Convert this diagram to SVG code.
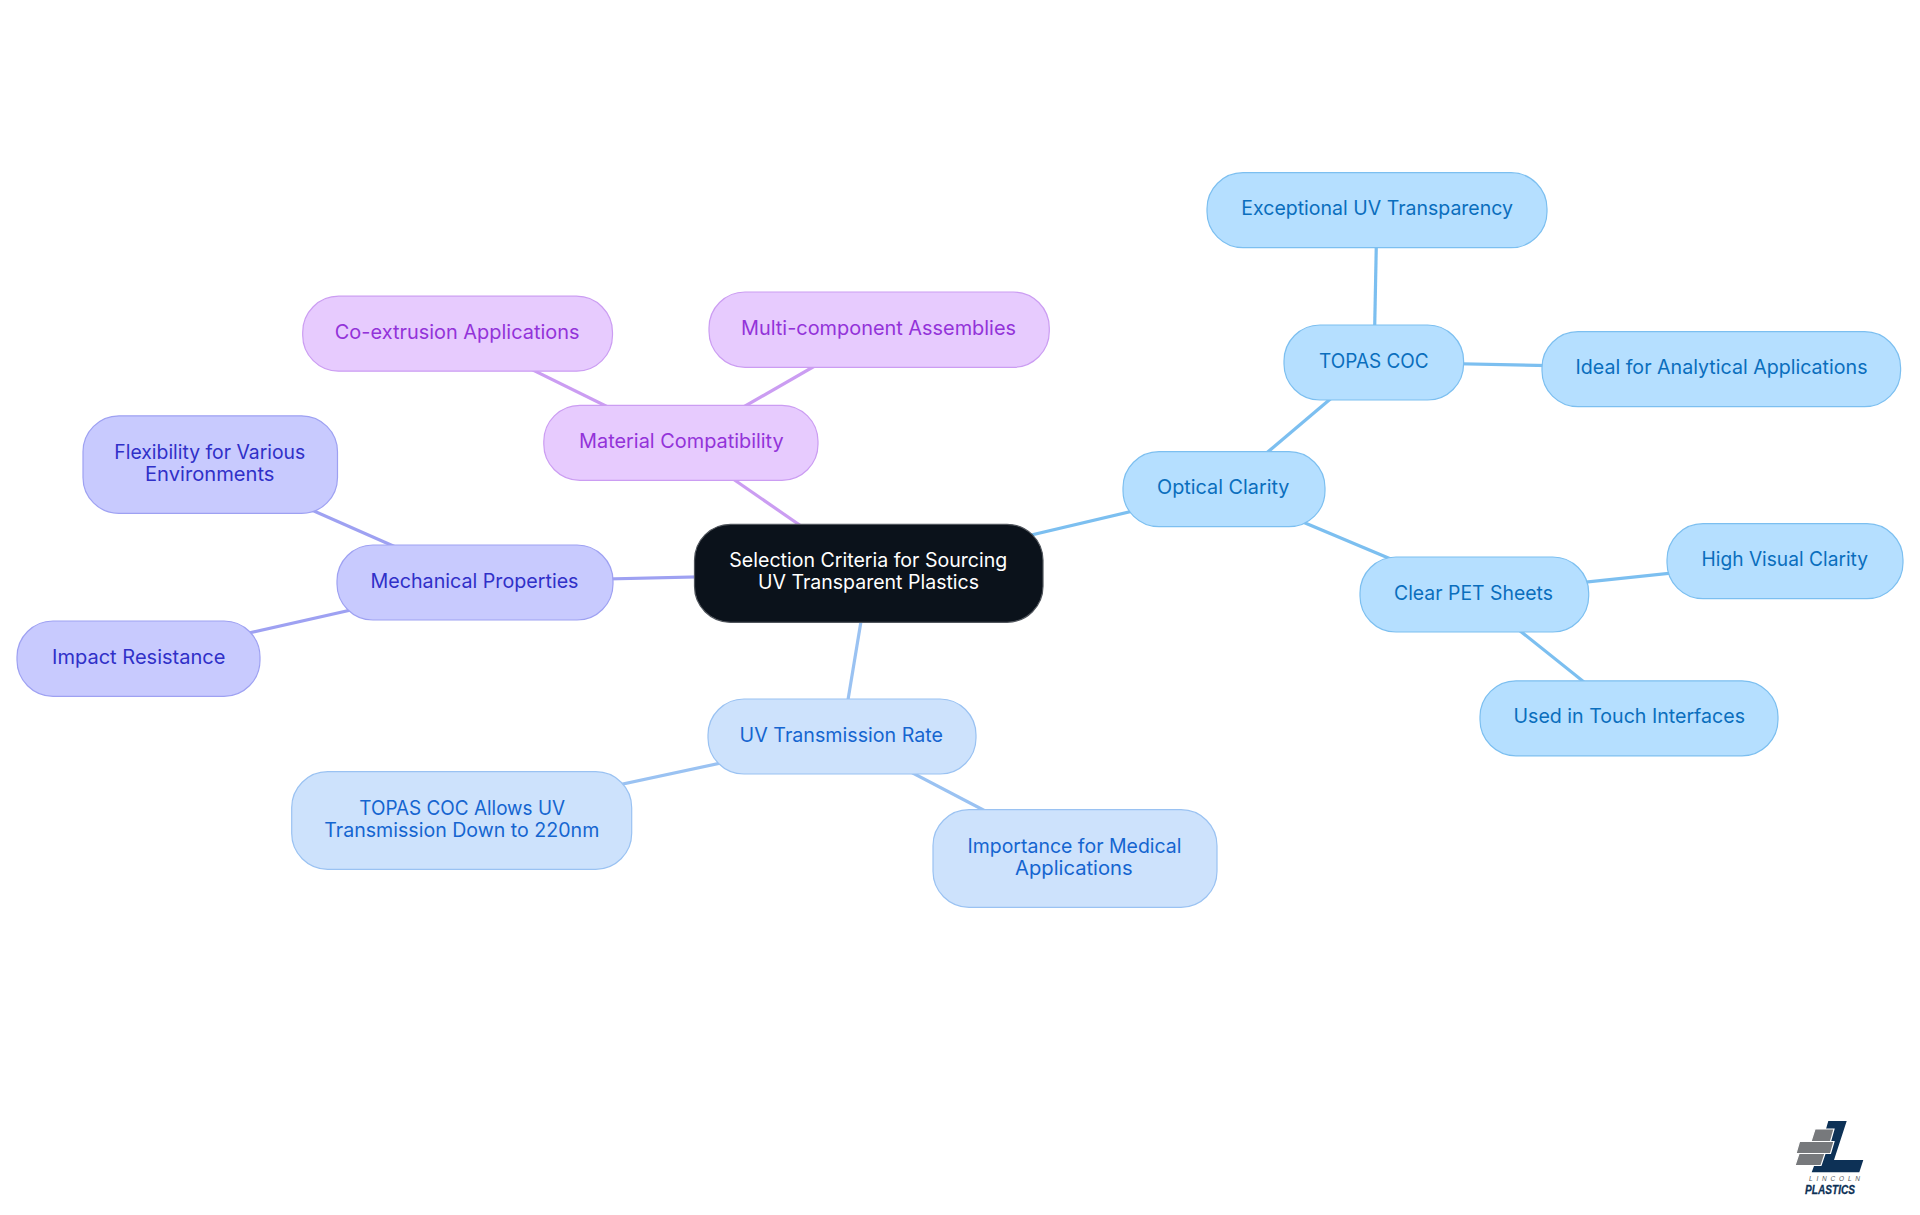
<svg xmlns="http://www.w3.org/2000/svg" width="1920" height="1215" viewBox="0 0 1920 1215">
<style>
text{font-family:"Inter","Noto Sans","Liberation Sans",sans-serif;font-size:19.6px;font-weight:400}
rect{stroke-width:1.2}
.a rect{fill:#b5dfff;stroke:#7cbff0}.a text{fill:#0a6ebd}
.u rect{fill:#cde2fc;stroke:#9ac2f2}.u text{fill:#1565d0}
.p rect{fill:#e7cbfe;stroke:#cb9df2}.p text{fill:#9333d9}
.i rect{fill:#c8cafe;stroke:#9ea1f2}.i text{fill:#3030c8}
#connectors line{stroke-width:3.2;fill:none}
.ca{stroke:#7cbff0}.cu{stroke:#9ac2f2}.cp{stroke:#cb9df2}.ci{stroke:#9ea1f2}
#logo text{font-family:"Liberation Sans",sans-serif;font-style:italic}
#logo .l1{font-size:6.5px;font-weight:400;fill:#55585c}
#logo .l2{font-size:13px;font-weight:700;fill:#0d3156;stroke:#0d3156;stroke-width:.3}
</style>
<g id="connectors">
<line class="ca" x1="869" y1="573.5" x2="1224" y2="489.5"/>
<line class="ca" x1="1224" y1="489" x2="1374" y2="362"/>
<line class="ca" x1="1374" y1="362" x2="1377" y2="210"/>
<line class="ca" x1="1374" y1="362" x2="1721" y2="369"/>
<line class="ca" x1="1222" y1="488" x2="1474" y2="594"/>
<line class="ca" x1="1474" y1="594" x2="1785" y2="561"/>
<line class="ca" x1="1474" y1="594" x2="1629" y2="718"/>
<line class="cu" x1="869" y1="573" x2="842" y2="736"/>
<line class="cu" x1="842" y1="737" x2="462" y2="818.6"/>
<line class="cu" x1="842" y1="736" x2="1075" y2="858"/>
<line class="cp" x1="869" y1="573" x2="681" y2="443"/>
<line class="cp" x1="681" y1="443" x2="458" y2="333"/>
<line class="cp" x1="681" y1="443" x2="879" y2="329"/>
<line class="ci" x1="869" y1="573" x2="475" y2="582"/>
<line class="ci" x1="475" y1="582" x2="205" y2="463"/>
<line class="ci" x1="475" y1="582" x2="138" y2="658"/>
</g>
<g id="root"><rect x="694.5" y="524.3" width="348.5" height="98" rx="36" fill="#0b121b" stroke="#50555c"/><text x="729.3" y="567.3" fill="#fff" textLength="278" lengthAdjust="spacingAndGlyphs">Selection Criteria for Sourcing</text><text x="758" y="589" fill="#fff" textLength="221" lengthAdjust="spacingAndGlyphs">UV Transparent Plastics</text></g>
<g id="optical" class="a"><rect x="1123" y="451.7" width="202" height="75" rx="36"/><text x="1157" y="494" textLength="132.5" lengthAdjust="spacingAndGlyphs">Optical Clarity</text></g>
<g id="topas" class="a"><rect x="1284" y="325" width="179.6" height="75" rx="36"/><text x="1319" y="367.7" textLength="109.7" lengthAdjust="spacingAndGlyphs">TOPAS COC</text></g>
<g id="exceptional" class="a"><rect x="1207" y="172.7" width="340" height="75" rx="36"/><text x="1241.3" y="215" textLength="271.7" lengthAdjust="spacingAndGlyphs">Exceptional UV Transparency</text></g>
<g id="ideal" class="a"><rect x="1542" y="331.7" width="358.6" height="75" rx="36"/><text x="1575.5" y="374" textLength="292" lengthAdjust="spacingAndGlyphs">Ideal for Analytical Applications</text></g>
<g id="clearpet" class="a"><rect x="1360" y="557" width="228.7" height="75" rx="36"/><text x="1394" y="599.5" textLength="159" lengthAdjust="spacingAndGlyphs">Clear PET Sheets</text></g>
<g id="highvisual" class="a"><rect x="1667" y="523.7" width="236" height="75" rx="36"/><text x="1701.5" y="566" textLength="166.5" lengthAdjust="spacingAndGlyphs">High Visual Clarity</text></g>
<g id="touch" class="a"><rect x="1480" y="680.8" width="298" height="75" rx="36"/><text x="1513.5" y="723.3" textLength="231.5" lengthAdjust="spacingAndGlyphs">Used in Touch Interfaces</text></g>
<g id="uvrate" class="u"><rect x="708" y="699" width="268" height="75" rx="36"/><text x="739.6" y="741.5" textLength="203.4" lengthAdjust="spacingAndGlyphs">UV Transmission Rate</text></g>
<g id="allows" class="u"><rect x="291.7" y="771.7" width="340" height="97.6" rx="36"/><text x="359.3" y="815" textLength="205.7" lengthAdjust="spacingAndGlyphs">TOPAS COC Allows UV</text><text x="324.3" y="837" textLength="275" lengthAdjust="spacingAndGlyphs">Transmission Down to 220nm</text></g>
<g id="medical" class="u"><rect x="933" y="809.7" width="284" height="97.6" rx="36"/><text x="967.5" y="852.5" textLength="214" lengthAdjust="spacingAndGlyphs">Importance for Medical</text><text x="1015" y="874.5" textLength="117.7" lengthAdjust="spacingAndGlyphs">Applications</text></g>
<g id="material" class="p"><rect x="543.8" y="405.3" width="274.2" height="75" rx="36"/><text x="579" y="447.5" textLength="204.7" lengthAdjust="spacingAndGlyphs">Material Compatibility</text></g>
<g id="coex" class="p"><rect x="302.7" y="296.2" width="309.8" height="75" rx="36"/><text x="334.8" y="339" textLength="244.7" lengthAdjust="spacingAndGlyphs">Co-extrusion Applications</text></g>
<g id="multi" class="p"><rect x="709" y="292" width="340.3" height="75.3" rx="36"/><text x="741" y="335" textLength="275" lengthAdjust="spacingAndGlyphs">Multi-component Assemblies</text></g>
<g id="mechanical" class="i"><rect x="337" y="545" width="276" height="75" rx="36"/><text x="370.5" y="588" textLength="208" lengthAdjust="spacingAndGlyphs">Mechanical Properties</text></g>
<g id="flexibility" class="i"><rect x="83" y="415.8" width="254.5" height="97.6" rx="36"/><text x="114.3" y="458.5" textLength="191" lengthAdjust="spacingAndGlyphs">Flexibility for Various</text><text x="145" y="480.5" textLength="129.5" lengthAdjust="spacingAndGlyphs">Environments</text></g>
<g id="impact" class="i"><rect x="17" y="621" width="243" height="75.3" rx="36"/><text x="52" y="664" textLength="173.5" lengthAdjust="spacingAndGlyphs">Impact Resistance</text></g>
<g id="logo">
<polygon points="1828.3,1121 1846.7,1121 1834,1160 1863.3,1160 1859.3,1172.3 1811.7,1172.3 1820,1150" fill="#0d3156"/>
<polygon points="1815,1129 1834,1129 1830.5,1141.5 1811,1141.5" fill="#77797c" stroke="#fff" stroke-width="1.2"/>
<polygon points="1799.5,1141.5 1834,1141.5 1830.5,1153.5 1796,1153.5" fill="#77797c" stroke="#fff" stroke-width="1.2"/>
<polygon points="1799,1153.5 1825,1153.5 1821,1165.5 1795,1165.5" fill="#77797c" stroke="#fff" stroke-width="1.2"/>
<text class="l1" x="1809" y="1181" textLength="51">LINCOLN</text>
<text class="l2" x="1805" y="1193.5" textLength="50" lengthAdjust="spacingAndGlyphs">PLASTICS</text>
</g>
</svg>
